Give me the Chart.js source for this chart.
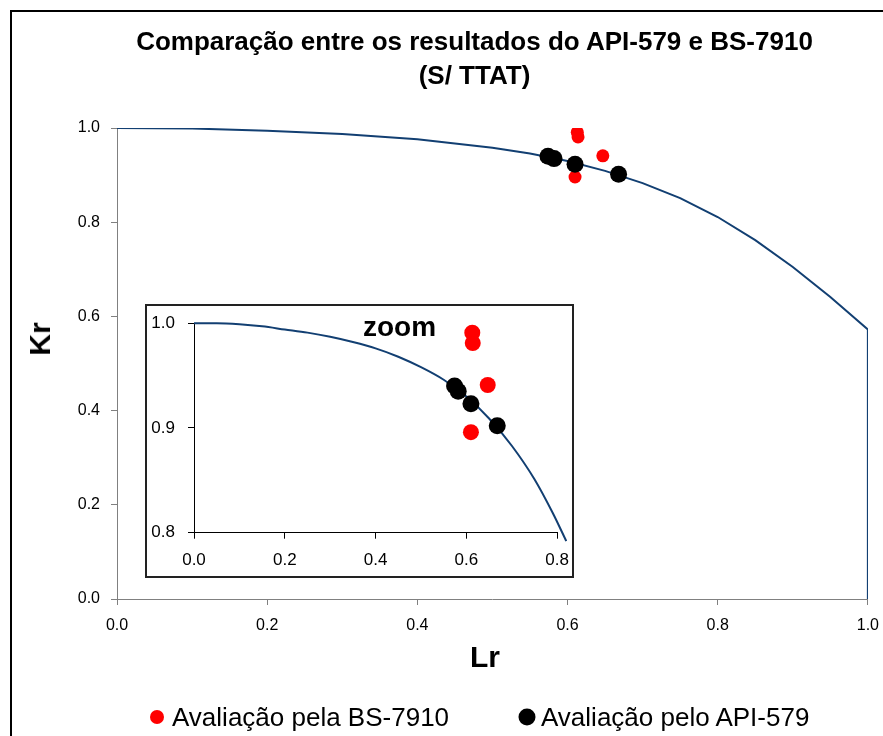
<!DOCTYPE html>
<html lang="pt">
<head>
<meta charset="utf-8">
<title>Comparação entre os resultados do API-579 e BS-7910</title>
<script src="https://cdn.jsdelivr.net/npm/chart.js@4/dist/chart.umd.min.js"></script>
<style>
  html, body { margin: 0; padding: 0; background: #fff; }
  body { position: relative; width: 883px; height: 736px; overflow: hidden;
         font-family: "Liberation Sans", Arial, sans-serif; color: #000; }
  #frame { position: absolute; left: 10px; top: 10px; width: 900px; height: 800px;
           border-left: 2px solid #000; border-top: 2px solid #000; }
  #title { position: absolute; left: 474.5px; top: 24px; transform: translateX(-50%);
           white-space: nowrap; text-align: center; font-weight: bold; font-size: 26px; line-height: 34px; }
  #mainChart { position: absolute; left: 0; top: 0; }
  .axisTitle { position: absolute; font-weight: bold; font-size: 30px; line-height: 30px; white-space: nowrap; }
  #krTitle { left: 40px; top: 339px; transform: translate(-50%, -50%) rotate(-90deg); }
  #lrTitle { left: 485px; top: 657px; transform: translate(-50%, -50%); }
  #inset { position: absolute; left: 145px; top: 304px; width: 429px; height: 274px;
           box-sizing: border-box; border: 2px solid #222; background: #fff; }
  #zoomChart { position: absolute; left: 0; top: -6px; }
  #zoomLabel { position: absolute; left: 216px; top: 7px; font-weight: bold; font-size: 28px; line-height: 28px; }
  #legend { position: absolute; left: 0; top: 717px; width: 883px; height: 0; }
  .item { position: absolute; top: 0; height: 0; }
  .dot { position: absolute; border-radius: 50%; transform: translate(-50%, -50%); }
  .label { position: absolute; top: 0; transform: translateY(-50%); font-size: 26px; line-height: 30px; white-space: nowrap; }
</style>
</head>
<body>
<div id="frame"></div>
<canvas id="mainChart" width="890" height="736"></canvas>
<div id="title">Comparação entre os resultados do API-579 e BS-7910<br>(S/ TTAT)</div>
<div class="axisTitle" id="krTitle">Kr</div>
<div class="axisTitle" id="lrTitle">Lr</div>
<div id="inset">
  <canvas id="zoomChart" width="433" height="276"></canvas>
  <div id="zoomLabel">zoom</div>
</div>
<div id="legend">
  <div class="item" style="left:157px">
    <div class="dot" style="left:0;top:0;width:14px;height:14px;background:#ff0000"></div>
    <div class="label" style="left:15px">Avaliação pela BS-7910</div>
  </div>
  <div class="item" style="left:527px">
    <div class="dot" style="left:0;top:0;width:17px;height:17px;background:#000"></div>
    <div class="label" style="left:14px">Avaliação pelo API-579</div>
  </div>
</div>
<script>
// Failure assessment line (Lr, Kr), ending with the cut-off at Lr = 1.0
const curveLr = [0, 0.1, 0.2, 0.3, 0.4, 0.5, 0.55, 0.6, 0.65, 0.7, 0.75, 0.8, 0.85, 0.9, 0.95, 1.0, 1.0];
const curveKr = [1.000, 0.999, 0.994, 0.987, 0.976, 0.958, 0.946, 0.930, 0.909, 0.883, 0.851, 0.811, 0.762, 0.705, 0.641, 0.572, 0];

// Same line, sampled more finely for the enlarged view (runs a little past its axes)
const zoomLr = [0, 0.05, 0.1, 0.15, 0.2, 0.25, 0.3, 0.35, 0.4, 0.45, 0.5, 0.55, 0.6, 0.65, 0.7, 0.75, 0.79, 0.82];
const zoomKr = [1.000, 1.000, 0.999, 0.997, 0.994, 0.991, 0.987, 0.982, 0.976, 0.968, 0.958, 0.946, 0.930, 0.909, 0.883, 0.851, 0.819, 0.792];

// Assessment points
const bsLr  = [0.613, 0.614, 0.647, 0.610];
const bsKr  = [0.991, 0.981, 0.941, 0.896];
const apiLr = [0.574, 0.582, 0.610, 0.668];
const apiKr = [0.940, 0.935, 0.923, 0.902];

// Axis ticks
const mainTicks = [0, 0.2, 0.4, 0.6, 0.8, 1.0];
const zoomXTicks = [0, 0.2, 0.4, 0.6, 0.8];
const zoomYTicks = [0.8, 0.9, 1.0];

const FONT = '"Liberation Sans", Arial, sans-serif';
const CURVE_COLOR = '#123f72';

const pairs = (xs, ys) => xs.map((x, i) => ({ x, y: ys[i] }));
const fixedTicks = list => scale => { scale.ticks = list.map(v => ({ value: v })); };

function axis(min, max, ticks, color, size, pad, fit) {
  return {
    type: 'linear', min, max,
    afterBuildTicks: fixedTicks(ticks),
    afterFit: fit,
    ticks: { color: '#000', font: { family: FONT, size }, padding: pad,
             callback: v => Number(v).toFixed(1), autoSkip: false, maxRotation: 0 },
    grid: { drawOnChartArea: false, drawTicks: true, tickLength: 6, color, lineWidth: 1 },
    border: { color, width: 1 }
  };
}

new Chart(document.getElementById('mainChart'), {
  type: 'scatter',
  data: {
    datasets: [
      { label: 'Avaliação pelo API-579', data: pairs(apiLr, apiKr),
        backgroundColor: '#000', borderColor: '#000', pointRadius: 8.5, borderWidth: 0 },
      { label: 'Avaliação pela BS-7910', data: pairs(bsLr, bsKr),
        backgroundColor: '#ff0000', borderColor: '#ff0000', pointRadius: 6.5, borderWidth: 0 },
      { label: 'FAD', data: pairs(curveLr, curveKr), showLine: true, pointRadius: 0,
        borderColor: CURVE_COLOR, borderWidth: 2, tension: 0 }
    ]
  },
  options: {
    responsive: false, animation: false, events: [],
    layout: { padding: { left: 10, right: 16, top: 128, bottom: 57 } },
    plugins: { legend: { display: false }, title: { display: false }, tooltip: { enabled: false } },
    scales: {
      x: axis(0, 1, mainTicks, '#808080', 16, 11, s => { s.height = 80; }),
      y: axis(0, 1, mainTicks, '#808080', 16, 11, s => { s.width = 107; })
    }
  }
});

new Chart(document.getElementById('zoomChart'), {
  type: 'scatter',
  data: {
    datasets: [
      { label: 'Avaliação pelo API-579', data: pairs(apiLr, apiKr),
        backgroundColor: '#000', borderColor: '#000', pointRadius: 8.5, borderWidth: 0 },
      { label: 'Avaliação pela BS-7910', data: pairs(bsLr, bsKr),
        backgroundColor: '#ff0000', borderColor: '#ff0000', pointRadius: 8, borderWidth: 0 },
      { label: 'FAD', data: pairs(zoomLr, zoomKr), showLine: true, pointRadius: 0,
        borderColor: CURVE_COLOR, borderWidth: 2, cubicInterpolationMode: 'monotone', clip: false }
    ]
  },
  options: {
    responsive: false, animation: false, events: [],
    layout: { padding: { left: 0, right: 15, top: 16, bottom: 3.3 } },
    plugins: { legend: { display: false }, title: { display: false }, tooltip: { enabled: false } },
    scales: {
      x: axis(0, 0.8, zoomXTicks, '#000', 17, 11, s => { s.height = 40; }),
      y: axis(0.8, 1.0, zoomYTicks, '#000', 17, 13, s => { s.width = 47; })
    }
  }
});
</script>
</body>
</html>
